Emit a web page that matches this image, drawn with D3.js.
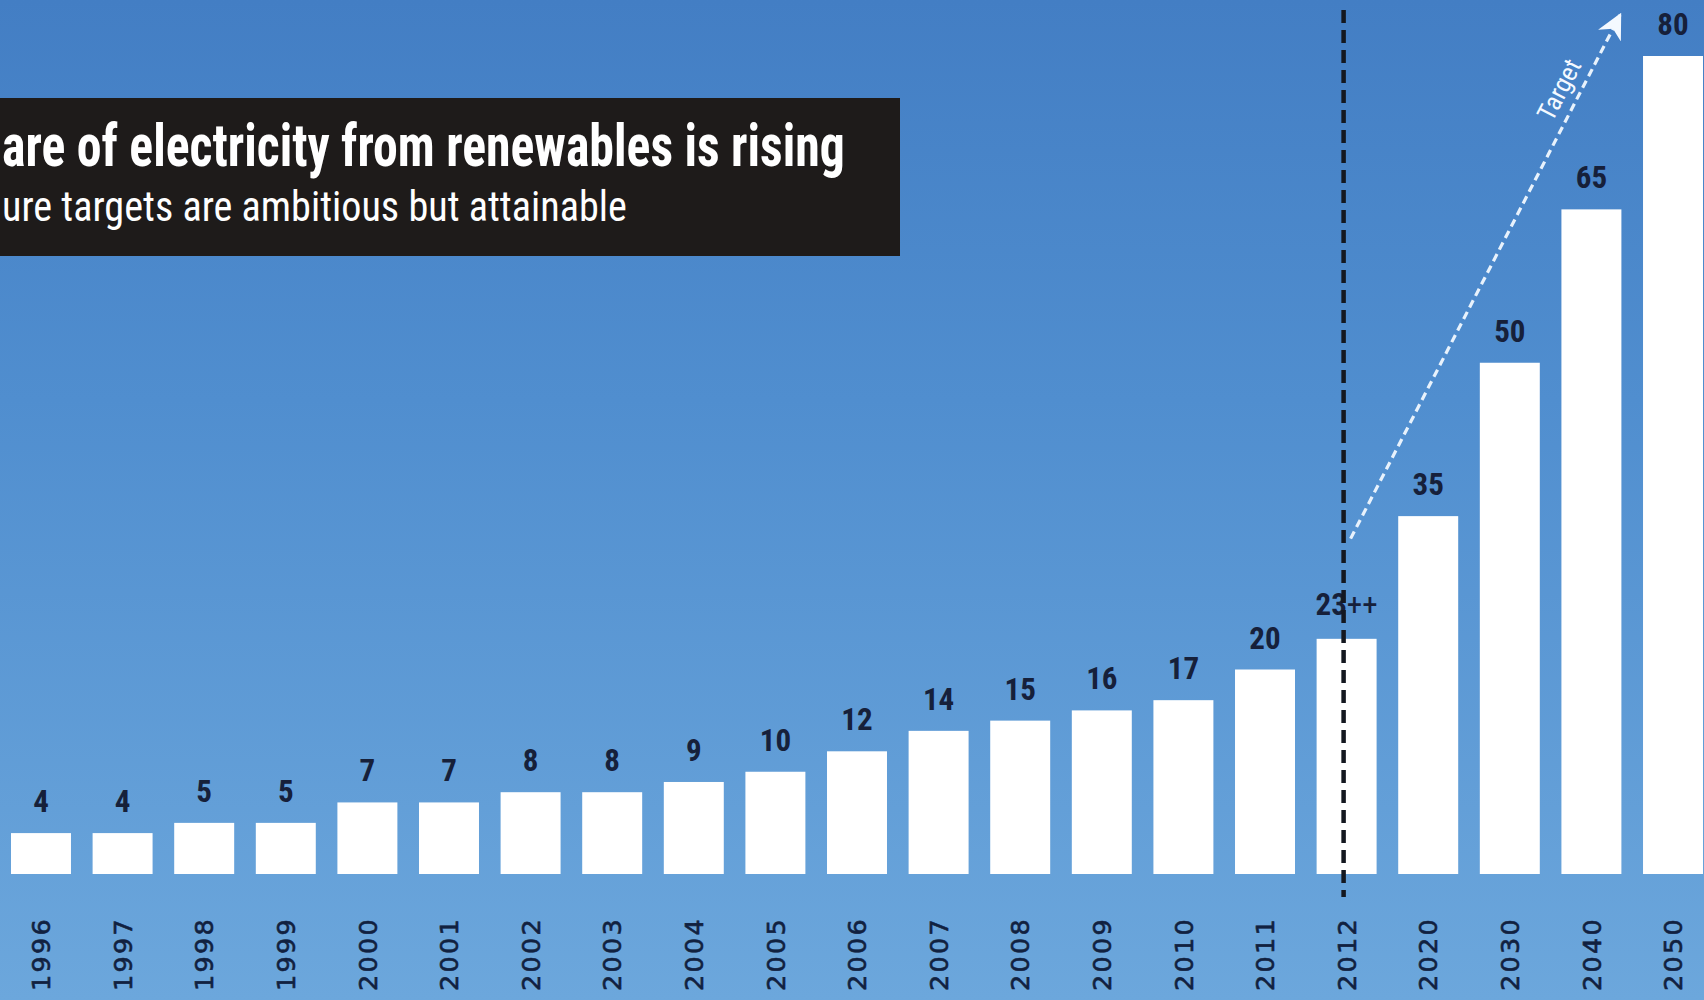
<!DOCTYPE html>
<html>
<head>
<meta charset="utf-8">
<script src="https://cdn.jsdelivr.net/npm/d3@7"></script>
<style>
  html, body { margin: 0; padding: 0; background: #4f8dcf; }
  svg { display: block; }
</style>
</head>
<body>
<svg id="chart" width="1704" height="1000"></svg>
<script>
// Share of electricity from renewables (%), actual years then targets
const years  = ["1996","1997","1998","1999","2000","2001","2002","2003","2004","2005","2006",
                "2007","2008","2009","2010","2011","2012","2020","2030","2040","2050"];
const shares = [4, 4, 5, 5, 7, 7, 8, 8, 9, 10, 12, 14, 15, 16, 17, 20, 23, 35, 50, 65, 80];
const valueLabels = ["4","4","5","5","7","7","8","8","9","10","12","14","15","16","17","20","23","35","50","65","80"];
const lastActualYear = "2012";
const titleText = "are of electricity from renewables is rising";
const subtitleText = "ure targets are ambitious but attainable";
const arrowLabel = "Target";

const W = 1704, H = 1000;
const svg = d3.select("#chart");

// background sky gradient
const defs = svg.append("defs");
const grad = defs.append("linearGradient").attr("id", "sky")
  .attr("x1", 0).attr("y1", 0).attr("x2", 0).attr("y2", 1);
grad.append("stop").attr("offset", "0%").attr("stop-color", "#437ec4");
grad.append("stop").attr("offset", "40%").attr("stop-color", "#508ecf");
grad.append("stop").attr("offset", "100%").attr("stop-color", "#6ca7dc");
svg.append("rect").attr("width", W).attr("height", H).attr("fill", "url(#sky)");

// arrowhead for the target trend
defs.append("marker").attr("id", "head")
  .attr("viewBox", "0 0 10 10").attr("refX", 9).attr("refY", 5)
  .attr("markerWidth", 8).attr("markerHeight", 8)
  .attr("markerUnits", "strokeWidth").attr("orient", "auto")
  .append("path").attr("d", "M0,0 L10,5 L0,10 L3,5 Z").attr("fill", "#f4f9ff");

const x = d3.scaleBand().domain(years).range([11, 1703])
  .paddingInner(0.265).paddingOuter(0);
const y = d3.scaleLinear().domain([0, 80]).range([874, 56]);

const labelFont = "'Liberation Sans Narrow', 'Roboto Condensed', 'Liberation Sans', sans-serif";
const ink = "#16203a";

// bars
svg.append("g").selectAll("rect").data(years).join("rect")
  .attr("x", d => x(d))
  .attr("y", (d, i) => y(shares[i]))
  .attr("width", x.bandwidth())
  .attr("height", (d, i) => y(0) - y(shares[i]))
  .attr("fill", "#ffffff");

// year axis, rotated labels below the bars
const axis = svg.append("g").attr("transform", "translate(0,917)")
  .call(d3.axisBottom(x).tickSize(0).tickPadding(0));
axis.select(".domain").remove();
axis.selectAll("text")
  .attr("transform", "rotate(-90)")
  .attr("x", 0).attr("y", 0).attr("dy", "0.36em")
  .attr("text-anchor", "end")
  .attr("fill", "#112140")
  .attr("stroke", "#112140").attr("stroke-width", 0.6)
  .style("font-family", "'DejaVu Sans', Verdana, sans-serif")
  .style("font-size", "25.5px")
  .style("letter-spacing", "2.3px");

// value labels above bars
const vl = svg.append("g").selectAll("text").data(years).join("text")
  .attr("x", d => x(d) + x.bandwidth() / 2)
  .attr("y", (d, i) => y(shares[i]) - 21)
  .attr("text-anchor", "middle")
  .attr("fill", ink)
  .style("font-family", labelFont)
  .style("font-size", "31px")
  .style("font-weight", "bold");
vl.filter(d => d !== lastActualYear).text(d => valueLabels[years.indexOf(d)]);
vl.filter(d => d === lastActualYear)
  .attr("y", d => y(shares[years.indexOf(d)]) - 24)
  .each(function(d) {
    const t = d3.select(this);
    t.append("tspan").text(valueLabels[years.indexOf(d)]);
    t.append("tspan").style("font-weight", "normal").text("++");
  });

// dashed divider between actual values and targets
const xd = x(lastActualYear) + x.bandwidth() / 2 - 3;
svg.append("line")
  .attr("x1", xd).attr("x2", xd).attr("y1", 10).attr("y2", 897)
  .attr("stroke", "#141820").attr("stroke-width", 4.5)
  .attr("stroke-dasharray", "13 7");

// target trend arrow
const a0 = [x(lastActualYear) + x.bandwidth() / 2 + 4, y(32.8)];
const a1 = [x("2050") - 23, y(84)];
svg.append("line")
  .attr("x1", a0[0]).attr("y1", a0[1]).attr("x2", a1[0]).attr("y2", a1[1])
  .attr("stroke", "#e8f2fc").attr("stroke-width", 3.2)
  .attr("stroke-dasharray", "8 5")
  .attr("marker-end", "url(#head)");
const ang = Math.atan2(a1[1] - a0[1], a1[0] - a0[0]) * 180 / Math.PI;
const tPos = [a0[0] + (a1[0] - a0[0]) * 0.84, a0[1] + (a1[1] - a0[1]) * 0.84];
svg.append("text")
  .attr("transform", `translate(${tPos[0]},${tPos[1]}) rotate(${ang})`)
  .attr("dy", -11)
  .attr("text-anchor", "middle")
  .attr("fill", "#f4f9ff")
  .style("font-family", labelFont)
  .style("font-size", "26px")
  .text(arrowLabel);

// title panel
svg.append("rect").attr("x", 0).attr("y", 98).attr("width", 900).attr("height", 158)
  .attr("fill", "#1e1b1a");

// title lines start at the left edge and are condensed to span the given width
function titleLine(txt, width, baseline, size, weight) {
  const t = svg.append("text")
    .attr("fill", "#ffffff")
    .style("font-family", labelFont)
    .style("font-size", size + "px")
    .style("font-weight", weight)
    .text(txt);
  const sx = width / t.node().getComputedTextLength();
  t.attr("transform", `translate(2,${baseline}) scale(${sx},1)`);
}
titleLine(titleText, 843, 166, 60, "bold");
titleLine(subtitleText, 625, 221, 42, "normal");
</script>
</body>
</html>
